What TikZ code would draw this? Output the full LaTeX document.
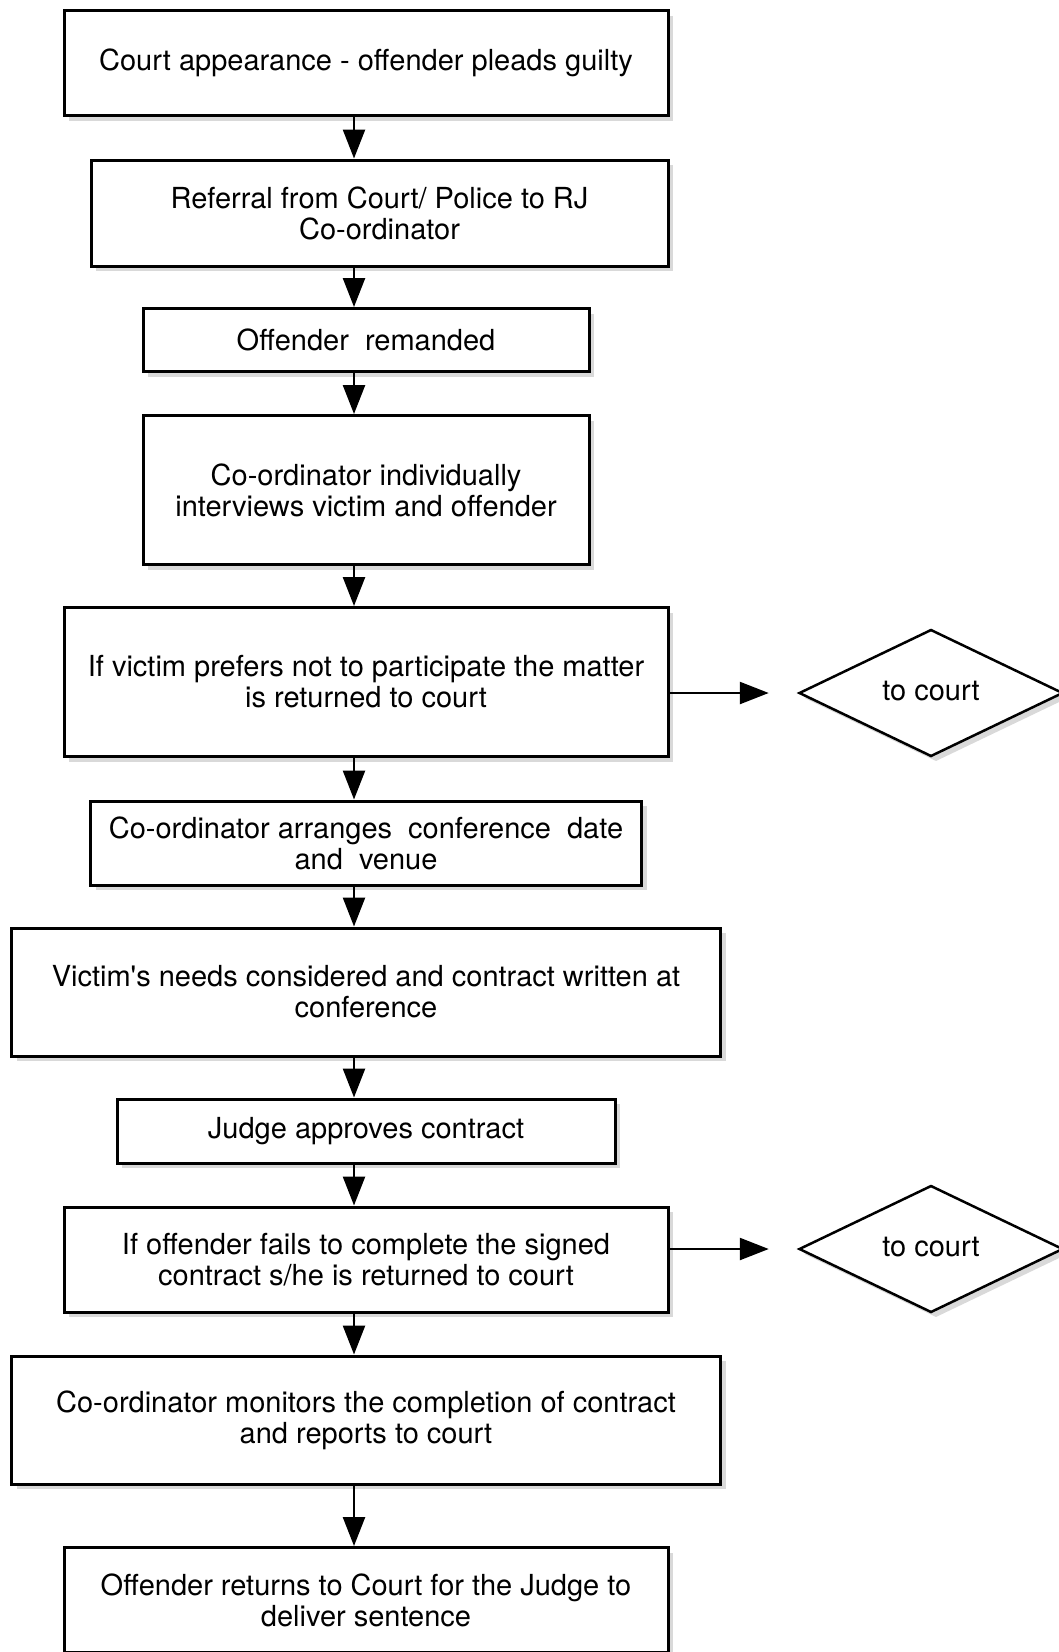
\documentclass[tikz,border=0pt]{standalone}
\usepackage{fontspec}
\setmainfont{TeX Gyre Heros}
\usetikzlibrary{shapes.geometric,shadows,arrows.meta}
\tikzset{
  stepbox/.style={draw, line width=3pt, fill=white, align=center, inner sep=0pt,
    font=\fontsize{29}{31}\selectfont,
    drop shadow={shadow xshift=5pt, shadow yshift=-5pt, opacity=0.3}},
  courtbox/.style={draw, diamond, line width=2.5pt, fill=white, inner sep=0pt,
    minimum width=264pt, minimum height=127pt, font=\fontsize{29}{31}\selectfont,
    drop shadow={shadow xshift=5pt, shadow yshift=-5pt, opacity=0.3}},
  flow/.style={draw, line width=2.5pt, -{Triangle[length=29pt,width=22pt]}}
}
\begin{document}
\begin{tikzpicture}[x=1pt,y=-1pt]
\useasboundingbox (0,0) rectangle (1058,1652);
\coordinate (s) at (354,0);

\node[stepbox, minimum width=604pt, minimum height=105pt] (1) at (366,63) {Court appearance - offender pleads guilty};
\node[stepbox, minimum width=577pt, minimum height=106pt] (2) at (379.5,213) {Referral from Court/ Police to RJ\\Co-ordinator};
\node[stepbox, minimum width=446pt, minimum height=63pt] (3) at (366,340) {Offender\ \ remanded};
\node[stepbox, minimum width=446pt, minimum height=149pt] (4) at (366,490) {Co-ordinator individually\\interviews victim and offender};
\node[stepbox, minimum width=604pt, minimum height=149pt] (5) at (366,682) {If victim prefers not to participate the matter\\is returned to court};
\node[stepbox, minimum width=551pt, minimum height=84pt] (6) at (366,843) {Co-ordinator arranges\ \ conference\ \ date\\and\ \ venue};
\node[stepbox, minimum width=709pt, minimum height=128pt] (7) at (366,992) {Victim\textquotesingle s needs considered and contract written at\\conference};
\node[stepbox, minimum width=498pt, minimum height=64pt] (8) at (366,1131) {Judge approves contract};
\node[stepbox, minimum width=604pt, minimum height=105pt] (9) at (366,1259.5) {If offender fails to complete the signed\\contract s/he is returned to court};
\node[stepbox, minimum width=709pt, minimum height=128pt] (10) at (366,1420) {Co-ordinator monitors the completion of contract\\and reports to court};
\node[stepbox, minimum width=604pt, minimum height=105pt] (11) at (366,1600) {Offender returns to Court for the Judge to\\deliver sentence};

\node[courtbox] (d1) at (931,693) {\raisebox{4pt}{to court}};
\node[courtbox] (d2) at (931,1249) {\raisebox{4pt}{to court}};

\path[flow] (1.south -| s) -- (2.north -| s);
\path[flow] (2.south -| s) -- (3.north -| s);
\path[flow] (3.south -| s) -- (4.north -| s);
\path[flow] (4.south -| s) -- (5.north -| s);
\path[flow] (5.south -| s) -- (6.north -| s);
\path[flow] (6.south -| s) -- (7.north -| s);
\path[flow] (7.south -| s) -- (8.north -| s);
\path[flow] (8.south -| s) -- (9.north -| s);
\path[flow] (9.south -| s) -- (10.north -| s);
\path[flow] (10.south -| s) -- (11.north -| s);

\path[flow] (5.east |- d1) -- ([xshift=-29pt]d1.west);
\path[flow] (9.east |- d2) -- ([xshift=-29pt]d2.west);
\end{tikzpicture}
\end{document}
